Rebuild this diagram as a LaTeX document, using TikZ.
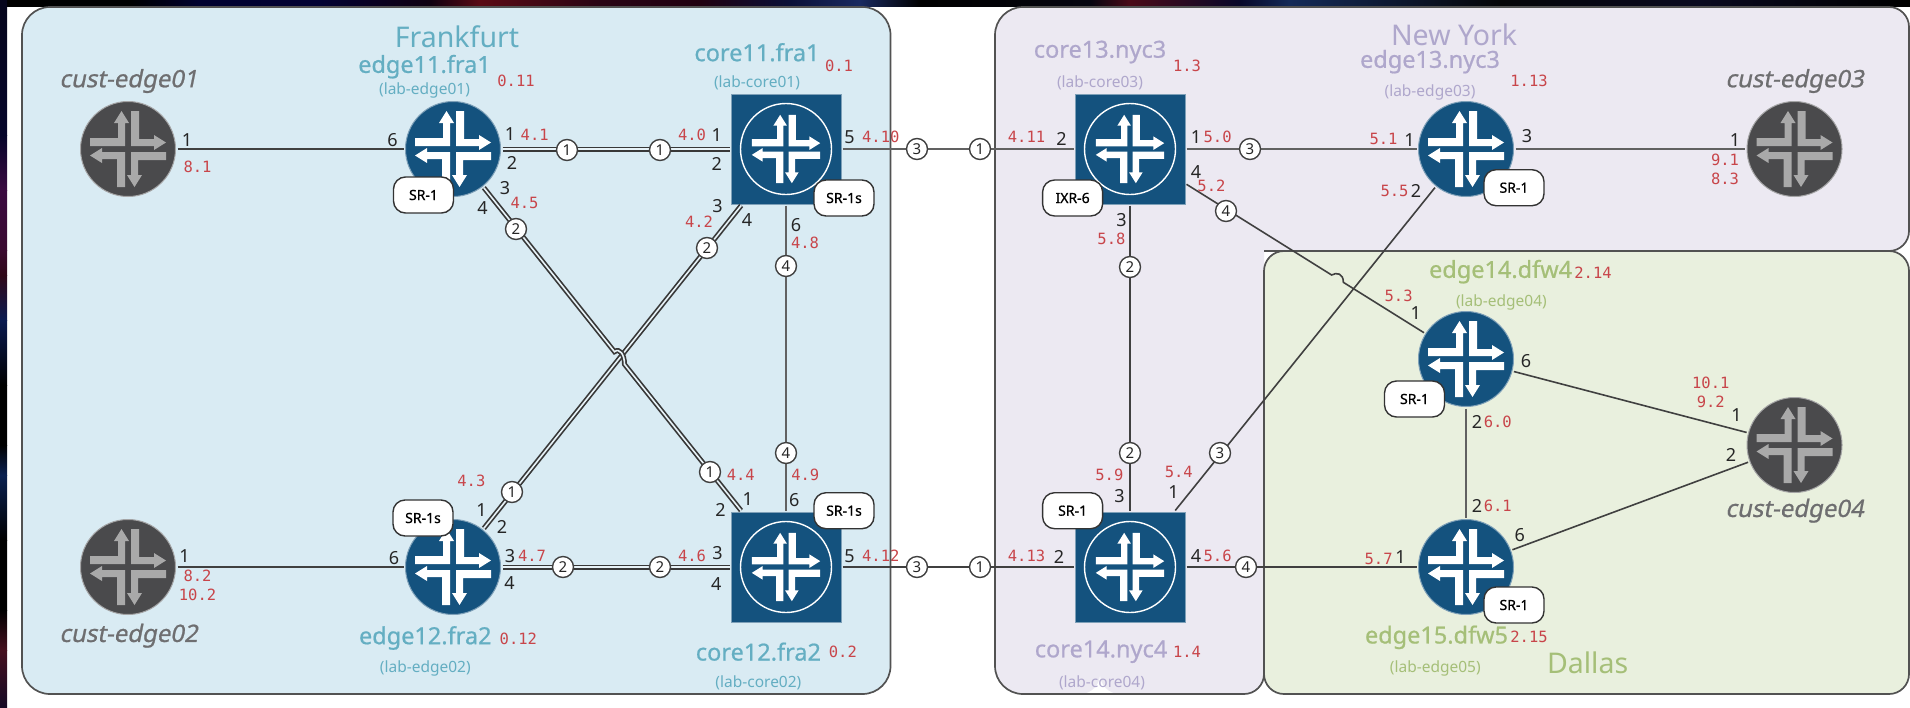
\documentclass[tikz,border=0pt]{standalone}
\usepackage{fontspec}
\usetikzlibrary{calc}
\setmainfont{Noto Sans}
\newfontfamily\redfont{DejaVu Sans Mono}
\newfontfamily\namefont[FakeBold=0.7]{Noto Sans}
\newfontfamily\custfont[FakeBold=0.9,FakeSlant=0.2]{Noto Sans}
\definecolor{jblue}{HTML}{14527E}
\definecolor{jdark}{HTML}{4A4A4C}
\definecolor{jarrow}{HTML}{A9A9A9}
\definecolor{frafill}{HTML}{D9EBF3}
\definecolor{nycfill}{HTML}{ECE9F2}
\definecolor{dalfill}{HTML}{E9F0DE}
\definecolor{fratext}{HTML}{64AEC2}
\definecolor{nyctext}{HTML}{AFA7CC}
\definecolor{daltext}{HTML}{A5BF78}
\definecolor{redtext}{HTML}{C8454A}
\definecolor{custtext}{HTML}{6E6E70}
\definecolor{lnkdark}{HTML}{404040}
\tikzset{
  jicon/.pic={\foreach \a in {0,90,180,270}{
    \path[pic actions,rotate=\a] (-38,-11)--(-10,-11)--(-10,-26)--(-14,-26)--(-6.5,-38)--(1,-26)--(-3,-26)--(-3,-3)--(-38,-3)--cycle;}},
  edger/.style={circle,fill=jblue,draw=jblue!55!white,line width=1pt,minimum size=95pt,inner sep=0pt,outer sep=2pt},
  custr/.style={circle,fill=jdark,draw=jdark!50!white,line width=1pt,minimum size=95pt,inner sep=0pt,outer sep=2pt},
  corer/.style={rectangle,fill=jblue,draw=jblue!55!white,line width=.8pt,minimum size=110pt,inner sep=0pt,outer sep=1.5pt},
  redlbl/.style={text=redtext,font=\redfont\fontsize{15.5}{15.5}\selectfont,inner sep=0pt},
  portlbl/.style={text=black!85,font=\fontsize{18}{18}\selectfont,inner sep=0pt},
  tag/.style={circle,fill=white,draw=lnkdark,line width=1.4pt,minimum size=21pt,inner sep=0pt,font=\fontsize{15}{15}\selectfont,text=black!85},
  badge/.style={rectangle,rounded corners=12pt,fill=white,draw=black!80,line width=1.4pt,minimum width=60pt,minimum height=36pt,inner sep=0pt,font=\namefont\fontsize{14}{14}\selectfont},
  lnk/.style={draw=lnkdark,line width=1.6pt},
  lnkg/.style={draw=black!62,line width=2.2pt},
  dbl/.style={draw=black!78,line width=1.7pt,double=frafill!60!white,double distance=1.6pt},
  nm/.style={font=\namefont\fontsize{23.5}{24}\selectfont,inner sep=0pt},
  lab/.style={font=\fontsize{15.5}{16}\selectfont,inner sep=0pt},
  cust/.style={font=\custfont\fontsize{24}{24}\selectfont,text=custtext,inner sep=0pt},
  city/.style={font=\fontsize{28.5}{29}\selectfont,inner sep=0pt},
  border/.style={draw=black!68,line width=1.7pt}
}
\begin{document}
\begin{tikzpicture}[x=1pt,y=-1pt]
\useasboundingbox (0,0) rectangle (1910,707);
% backdrop
\fill[white] (0,0) rectangle (1910,707);
\foreach \xa/\xb/\ca/\cb in {0/130/000000/000000,130/200/000000/010230,200/320/010230/020233,320/430/020233/100010,430/480/100010/5A0A14,480/600/5A0A14/2A0515,600/700/2A0515/200010,700/790/200010/0A1038,790/860/0A1038/1A2A60,860/920/1A2A60/000000,920/1090/000000/050510,1090/1130/050510/4A0A18,1130/1240/4A0A18/08082A,1240/1290/08082A/142A58,1290/1500/142A58/050508,1500/1700/050508/0A0A20,1700/1910/0A0A20/000000}{
  \definecolor{ga}{HTML}{\ca}\definecolor{gb}{HTML}{\cb}
  \shade[left color=ga,right color=gb] (\xa,0) rectangle (\xb,6);}
\foreach \ya/\yb/\ca/\cb in {0/135/05051C/05052A,135/190/05052A/3A0A40,190/250/3A0A40/3A0A30,250/275/3A0A30/300818,275/320/300818/0A1A50,320/385/0A1A50/000000,385/445/000000/000000,445/475/000000/0A2050,475/540/0A2050/000000,540/610/000000/000000,610/650/000000/45101F,650/707/45101F/150A25}{
  \definecolor{ga}{HTML}{\ca}\definecolor{gb}{HTML}{\cb}
  \shade[top color=ga,bottom color=gb] (0,\ya) rectangle (7,\yb);}
% region fills
\fill[frafill,rounded corners=28pt] (22,7) rectangle (890.5,694);
\fill[nycfill,rounded corners=28pt] (1100,694) -- (995,694) -- (995,7) -- (1300,7) [rounded corners=20pt] -- (1909,7) -- (1909,251) [sharp corners] -- (1264,251) [rounded corners=20pt] -- (1264,694) -- (1100,694) -- cycle;
\fill[dalfill,rounded corners=20pt] (1264,251) rectangle (1909,694);
% red address labels
\foreach \x/\y/\t [count=\i] in {516/81/0.11,197.5/167/8.1,534.7/135/4.1,524.5/203/4.5,197.5/575.7/8.2,197.5/594.7/10.2,532/556/4.7,471.4/481.3/4.3,518.4/639/0.12,839/66/0.1,692/135/4.0,699/221.7/4.2,880.8/137/4.10,805/242.7/4.8,1187/66/1.3,1026.5/137/4.11,1217.6/137/5.0,1211.4/186/5.2,1111.4/239/5.8,740.8/474.7/4.4,805.3/474.7/4.9,692/555.7/4.6,880.8/555.7/4.12,842.9/651.7/0.2,1109.4/474.7/5.9,1178.8/472/5.4,1026.5/555.7/4.13,1217.6/556.3/5.6,1187/651.7/1.4,1529/80.7/1.13,1383.5/139/5.1,1394.5/190.7/5.5,1725/160/9.1,1725/179/8.3,1593/273/2.14,1398.6/295.7/5.3,1497.8/422.3/6.0,1497.8/505.7/6.1,1378.6/559/5.7,1529/637.3/2.15,1710.8/383.3/10.1,1710.8/402.3/9.2}
  \node[redlbl] (addr\i) at (\x,\y) {\t};
% port numbers
\foreach \x/\y/\t [count=\i] in {187/140/1,392.6/140/6,510/134/1,512/163/2,505/188/3,482.4/208/4,184.5/556/1,394/558/6,510/556/3,509.4/583/4,481.6/509.7/1,502/527.3/2,716.7/135/1,716.7/164/2,717.5/206/3,747/220/4,849.4/137/5,796/225/6,1061.6/139/2,1196/137/1,1196/171.7/4,1121.6/220/3,747.8/499/1,720.4/509.7/2,794.3/500/6,717.5/553/3,716.3/584/4,849.4/555.7/5,1119.6/495.7/3,1173.5/492.3/1,1059/557.3/2,1196/556.3/4,1409.6/140/1,1527/136/3,1416/190.7/2,1735/140/1,1415.7/312.7/1,1526/361.3/6,1477/422.3/2,1477/505.7/2,1519.8/534.7/6,1400.6/556.7/1,1736.5/415/1,1731/454.7/2}
  \node[portlbl] (port\i) at (\x,\y) {\t};
% device names
\foreach \x/\y/\t/\c [count=\i] in {424.5/66.7/edge11.fra1/fratext,425.3/638/edge12.fra2/fratext,757/52.3/core11.fra1/fratext,758.4/651.7/core12.fra2/fratext,1100/52/core13.nyc3/nyctext,1101/651.7/core14.nyc4/nyctext,1430/61.7/edge13.nyc3/nyctext,1500.6/271.7/edge14.dfw4/daltext,1436.5/637.3/edge15.dfw5/daltext}
  \node[nm,text=\c] (name\i) at (\x,\y) {\t};
\foreach \x/\y/\t/\c [count=\i] in {424.5/90/(lab-edge01)/fratext,425.3/668/(lab-edge02)/fratext,757/82.7/(lab-core01)/fratext,758.4/683/(lab-core02)/fratext,1100/82.7/(lab-core03)/nyctext,1102/683/(lab-core04)/nyctext,1430/92.7/(lab-edge03)/nyctext,1501.4/302.7/(lab-edge04)/daltext,1435.3/668/(lab-edge05)/daltext}
  \node[lab,text=\c] (lab\i) at (\x,\y) {\t};
\foreach \x/\y/\t [count=\i] in {128.5/81/cust-edge01,128.5/635.7/cust-edge02,1794.5/81/cust-edge03,1794.5/510.7/cust-edge04}
  \node[cust] (cname\i) at (\x,\y) {\t};
\node[city,text=fratext] (cityf) at (457,37) {Frankfurt};
\node[city,text=nyctext] (cityn) at (1454,35) {New York};
\node[city,text=daltext] (cityd) at (1587.6,663) {Dallas};
% region borders
\draw[border,rounded corners=28pt] (22,7) rectangle (890.5,694);
\draw[border,rounded corners=28pt] (1100,694) -- (995,694) -- (995,7) -- (1300,7) [rounded corners=20pt] -- (1909,7) -- (1909,251) -- (1264,251);
\draw[border,rounded corners=20pt] (1264,400) -- (1264,694) -- (1100,694);
\draw[border,rounded corners=20pt] (1264,251) rectangle (1909,694);
% routers
\node[custr] (cust01) at (128,149) {};
\node[custr] (cust02) at (128,567) {};
\node[custr] (cust03) at (1794.5,149) {};
\node[custr] (cust04) at (1794.5,445) {};
\node[edger] (edge11) at (453,149) {};
\node[edger] (edge12) at (453,567) {};
\node[edger] (edge13) at (1466,149) {};
\node[edger] (edge14) at (1466,359) {};
\node[edger] (edge15) at (1466,567) {};
\node[corer] (core11) at (786,149) {};
\node[corer] (core12) at (786,567) {};
\node[corer] (core13) at (1130,149) {};
\node[corer] (core14) at (1130,567) {};
\foreach \n in {cust01,cust02,cust03,cust04} \pic[fill=jarrow] at (\n) {jicon};
\foreach \n in {edge11,edge12,edge13,edge14,edge15} \pic[fill=white] at (\n) {jicon};
\foreach \n in {core11,core12,core13,core14}{
  \draw[white,line width=1.4pt] (\n) circle[radius=45.5pt];
  \pic[fill=white,scale=.9] at (\n) {jicon};}
% hop points
\coordinate (hopa) at ($(edge11)!0.485!(core12)$);
\coordinate (hopb) at ($(edge11)!0.515!(core12)$);
\coordinate (hopc) at ($(core13)!0.6!(edge14)$);
\coordinate (hopd) at ($(core13)!0.635!(edge14)$);
% connectors
\draw[lnk] (cust01) -- (edge11);
\draw[lnk] (cust02) -- (edge12);
\draw[dbl] (edge11) -- (core11);
\draw[dbl] (edge12) -- (core12);
\draw[dbl] (edge12) -- (core11);
\draw[dbl] (edge11) -- (hopa) .. controls ($(hopa)+(5,-4)$) and ($(hopb)+(0,-10)$) .. (hopb) -- (core12);
\draw[lnkg] (core11) -- (core13);
\draw[lnk] (core12) -- (core14);
\draw[lnkg,line width=1.7pt] (core11) -- (core12);
\draw[lnk] (core13) -- (core14);
\draw[lnkg] (core13) -- (edge13);
\draw[lnkg] (edge13) -- (cust03);
\draw[lnk] (core14) -- (edge15);
\draw[lnk] (core14) -- (edge13);
\draw[lnk] (core13) -- (hopc) .. controls ($(hopc)+(5,-3)$) and ($(hopd)+(0,-9)$) .. (hopd) -- (edge14);
\draw[lnkg] (edge14) -- (edge15);
\draw[lnk] (edge14) -- (cust04);
\draw[lnk] (edge15) -- (cust04);
% link tags
\foreach \x/\y/\t [count=\i] in {567/150/1,660/150/1,516/229/2,707/248/2,786/266/4,917/149/3,980/149/1,1250/149/3,1226/211/4,1130/267/2,512/492/1,563/567/2,660/567/2,710/472/1,786/453/4,917/567/3,980/567/1,1130/453/2,1220/453/3,1246/567/4}
  \node[tag] (tag\i) at (\x,\y) {\t};
% model badges
\foreach \x/\y/\t [count=\i] in {423.5/195/SR-1,423/518/SR-1s,844/198/SR-1s,844/510.7/SR-1s,1072.6/198/IXR-6,1072.6/510.7/SR-1,1514/187.7/SR-1,1414.5/399/SR-1,1514/605/SR-1}
  \node[badge] (model\i) at (\x,\y) {\t};
\end{tikzpicture}
\end{document}
